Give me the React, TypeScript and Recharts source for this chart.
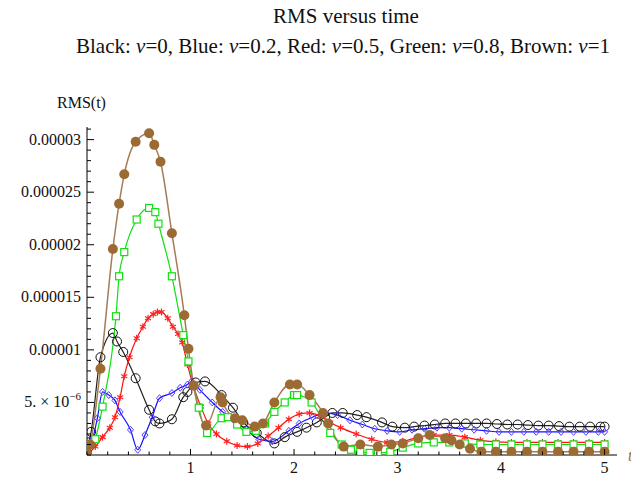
import React from 'react';
import { LineChart, Line, XAxis, YAxis } from 'recharts';

// values in units of 1e-6
const blackT = [0, 0.02, 0.04, 0.13, 0.25, 0.29, 0.35, 0.47, 0.6, 0.66, 0.7, 0.82, 0.93, 0.97, 1.05, 1.14, 1.3, 1.41, 1.51, 1.64, 1.81, 1.91, 2.03, 2.12, 2.22, 2.3, 2.37, 2.47, 2.61, 2.7, 2.85, 2.95, 3.07, 3.16, 3.26, 3.36, 3.46, 3.56, 3.66, 3.76, 3.86, 3.96, 4.06, 4.16, 4.26, 4.36, 4.46, 4.56, 4.66, 4.76, 4.86, 4.96, 5.0];
const blackV = [0.2, 1.2, 2.2, 9.3, 11.6, 10.8, 9.8, 7.3, 4.3, 3.2, 3.0, 3.4, 5.5, 6.0, 6.9, 7.0, 5.7, 4.5, 3.1, 2.1, 1.1, 1.7, 2.2, 2.6, 3.1, 3.6, 4.0, 4.0, 3.8, 3.6, 3.1, 2.7, 2.6, 2.7, 2.8, 2.9, 3.0, 3.0, 3.0, 3.0, 3.0, 2.95, 2.9, 2.9, 2.85, 2.8, 2.8, 2.75, 2.7, 2.7, 2.7, 2.7, 2.7];

const blueT = [0, 0.02, 0.05, 0.1, 0.15, 0.21, 0.27, 0.32, 0.42, 0.49, 0.56, 0.63, 0.7, 0.82, 0.9, 0.97, 1.01, 1.09, 1.21, 1.31, 1.41, 1.54, 1.66, 1.79, 1.95, 2.05, 2.18, 2.3, 2.42, 2.54, 2.66, 2.78, 2.9, 3.02, 3.14, 3.26, 3.38, 3.5, 3.62, 3.74, 3.86, 3.98, 4.1, 4.22, 4.34, 4.46, 4.58, 4.7, 4.82, 4.94, 5.0];
const blueV = [0, 0.8, 1.4, 3.5, 6.0, 5.7, 5.2, 4.1, 2.4, 0.5, 1.9, 3.6, 5.4, 5.9, 6.4, 6.7, 7.0, 6.2, 5.0, 4.1, 3.4, 2.4, 1.5, 1.3, 2.3, 3.0, 3.6, 4.0, 3.8, 3.3, 2.9, 2.5, 2.3, 2.2, 2.4, 2.5, 2.6, 2.6, 2.5, 2.4, 2.3, 2.2, 2.2, 2.2, 2.2, 2.2, 2.2, 2.2, 2.2, 2.2, 2.2];

const redT = [0, 0.08, 0.15, 0.22, 0.27, 0.32, 0.36, 0.41, 0.48, 0.54, 0.59, 0.64, 0.68, 0.72, 0.78, 0.83, 0.88, 0.92, 0.97, 1.03, 1.1, 1.17, 1.25, 1.35, 1.45, 1.55, 1.65, 1.75, 1.85, 1.95, 2.05, 2.15, 2.25, 2.35, 2.45, 2.6, 2.75, 2.9, 3.05, 3.2, 3.35, 3.5, 3.65, 3.8, 3.95, 4.1, 4.25, 4.4, 4.55, 4.7, 4.85, 5.0];
const redV = [0, 0.8, 1.7, 2.6, 3.6, 5.5, 7.5, 9.3, 11.1, 12.2, 13.0, 13.4, 13.6, 13.6, 13.0, 12.2, 11.5, 10.7, 8.6, 6.5, 4.6, 3.0, 2.0, 1.3, 0.9, 0.8, 1.1, 1.8, 2.6, 3.4, 3.9, 4.0, 3.7, 3.1, 2.6, 2.0, 1.5, 1.2, 1.3, 1.7, 1.9, 1.9, 1.7, 1.4, 1.25, 1.2, 1.2, 1.2, 1.2, 1.2, 1.2, 1.2];

const greenT = [0, 0.08, 0.15, 0.28, 0.31, 0.36, 0.48, 0.6, 0.66, 0.69, 0.82, 0.93, 0.98, 1.08, 1.16, 1.3, 1.36, 1.45, 1.54, 1.63, 1.72, 1.81, 1.91, 2.0, 2.03, 2.17, 2.35, 2.46, 2.55, 2.64, 2.73, 2.81, 2.93, 3.05, 3.2, 3.35, 3.5, 3.65, 3.8, 3.95, 4.1, 4.25, 4.4, 4.55, 4.7, 4.85, 5.0];
const greenV = [0, 1.5, 4.6, 13.2, 17.0, 19.3, 22.4, 23.5, 23.1, 22.0, 17.0, 11.4, 8.9, 4.5, 2.1, 3.5, 3.6, 2.9, 2.2, 2.3, 3.0, 4.1, 5.0, 5.7, 5.7, 5.0, 2.1, 1.0, 0.5, 0.3, 0.2, 0.2, 0.3, 0.7, 1.1, 1.2, 1.2, 1.1, 1.0, 1.0, 1.0, 1.0, 1.0, 1.0, 1.0, 1.0, 1.0];

const brownT = [0, 0.03, 0.13, 0.25, 0.31, 0.36, 0.47, 0.6, 0.65, 0.71, 0.82, 0.94, 0.98, 1.03, 1.15, 1.29, 1.31, 1.43, 1.5, 1.62, 1.7, 1.81, 1.96, 2.03, 2.15, 2.28, 2.33, 2.48, 2.64, 2.81, 2.94, 3.05, 3.2, 3.31, 3.46, 3.52, 3.6, 3.7, 3.81, 3.95, 4.1, 4.25, 4.4, 4.55, 4.7, 4.85, 5.0];
const brownV = [0.2, 1.0, 8.2, 19.6, 23.9, 26.7, 29.8, 30.6, 29.5, 27.9, 21.1, 13.3, 10.1, 6.6, 2.8, 5.5, 5.0, 3.5, 3.3, 2.7, 3.0, 5.0, 6.7, 6.7, 5.7, 4.0, 3.0, 0.8, 1.0, 0.8, 1.0, 1.1, 1.6, 1.9, 1.6, 1.4, 1.0, 0.6, 0.3, 0.3, 0.3, 0.3, 0.3, 0.3, 0.3, 0.3, 0.3];

const xTicks = [0, 0.2, 0.4, 0.6, 0.8, 1, 1.2, 1.4, 1.6, 1.8, 2, 2.2, 2.4, 2.6, 2.8, 3, 3.2, 3.4, 3.6, 3.8, 4, 4.2, 4.4, 4.6, 4.8, 5];
const xMajorLabels: Record<string, string> = { '1': '1', '2': '2', '3': '3', '4': '4', '5': '5' };
const yTicks = Array.from({ length: 32 }, (_, i) => i);
const yMajorLabels: Record<string, string> = { '10': '0.00001', '15': '0.000015', '20': '0.00002', '25': '0.000025', '30': '0.00003' };

const title = 'RMS versus time';
const subtitleParts = [
  ['Black', '0'],
  ['Blue', '0.2'],
  ['Red', '0.5'],
  ['Green', '0.8'],
  ['Brown', '1'],
];

const zip = (t: number[], v: number[]) => t.map((x, i) => ({ t: x, v: v[i] }));
const blackData = zip(blackT, blackV);
const blueData = zip(blueT, blueV);
const redData = zip(redT, redV);
const greenData = zip(greenT, greenV);
const brownData = zip(brownT, brownV);

const FONT = '"Liberation Serif", "Times New Roman", serif';

const XTick = (props: any) => {
  const { x, y, payload } = props;
  const val = payload.value;
  const major = Math.abs(val - Math.round(val)) < 1e-6 && val > 0;
  const label = xMajorLabels[String(Math.round(val))];
  return (
    <g>
      <line x1={x} x2={x} y1={y} y2={y - (major ? 6 : 3.5)} stroke="#000" strokeWidth={1} />
      {major && label ? (
        <text x={x} y={y + 18} textAnchor="middle" fontFamily={FONT} fontSize={16} fill="#111">
          {label}
        </text>
      ) : null}
    </g>
  );
};

const YTick = (props: any) => {
  const { x, y, payload } = props;
  const val = payload.value;
  const major = val % 5 === 0 && val > 0;
  return (
    <g>
      <line x1={x} x2={x + (major ? 7 : 4)} y1={y} y2={y} stroke="#000" strokeWidth={1} />
      {major && val === 5 ? (
        <text x={x - 6} y={y + 5} textAnchor="end" fontFamily={FONT} fontSize={16} fill="#111">
          5. × 10
          <tspan dy={-7} fontSize={11}>−6</tspan>
        </text>
      ) : major ? (
        <text x={x - 6} y={y + 5} textAnchor="end" fontFamily={FONT} fontSize={16} fill="#111">
          {yMajorLabels[String(val)]}
        </text>
      ) : null}
    </g>
  );
};

const ok = (p: any) => p && typeof p.cx === 'number' && typeof p.cy === 'number' && !isNaN(p.cy);

const BlackDot = (p: any) =>
  ok(p) ? <circle key={`bk${p.index}`} cx={p.cx} cy={p.cy} r={4.5} fill="none" stroke="#111" strokeWidth={1} /> : <g key={`bk${p.index}`} />;

const BlueDot = (p: any) =>
  ok(p) ? (
    <path
      key={`bl${p.index}`}
      d={`M${p.cx},${p.cy - 3.5}L${p.cx + 3},${p.cy}L${p.cx},${p.cy + 3.5}L${p.cx - 3},${p.cy}Z`}
      fill="none"
      stroke="#5a3cff"
      strokeWidth={1}
    />
  ) : <g key={`bl${p.index}`} />;

const RedDot = (p: any) => {
  if (!ok(p)) return <g key={`rd${p.index}`} />;
  const r = 3.5;
  const a = r * 0.866;
  const b = r * 0.5;
  return (
    <path
      key={`rd${p.index}`}
      d={`M${p.cx},${p.cy - r}L${p.cx},${p.cy + r}M${p.cx - a},${p.cy - b}L${p.cx + a},${p.cy + b}M${p.cx - a},${p.cy + b}L${p.cx + a},${p.cy - b}`}
      stroke="#ff2020"
      strokeWidth={1.2}
      fill="none"
    />
  );
};

const GreenDot = (p: any) =>
  ok(p) ? (
    <rect key={`gr${p.index}`} x={p.cx - 3.5} y={p.cy - 3.5} width={7} height={7} fill="#fff" stroke="#10e010" strokeWidth={1.2} />
  ) : <g key={`gr${p.index}`} />;

const BrownDot = (p: any) =>
  ok(p) ? <circle key={`br${p.index}`} cx={p.cx} cy={p.cy} r={5} fill="#9c6a33" stroke="none" /> : <g key={`br${p.index}`} />;

export default function App() {
  return (
    <div style={{ position: 'absolute', left: 0, top: 0, width: 631, height: 480, background: '#fff', overflow: 'hidden' }}>
      <div
        style={{
          position: 'absolute',
          left: 0,
          top: 4,
          width: 692,
          textAlign: 'center',
          fontFamily: FONT,
          fontSize: 21,
          lineHeight: '24px',
          color: '#111',
          whiteSpace: 'nowrap',
        }}
      >
        {title}
      </div>
      <div
        style={{
          position: 'absolute',
          left: 0,
          top: 34,
          width: 686,
          textAlign: 'center',
          fontFamily: FONT,
          fontSize: 21,
          lineHeight: '24px',
          color: '#111',
          whiteSpace: 'nowrap',
        }}
      >
        {subtitleParts.map(([name, val], i) => (
          <span key={name}>
            {name}: <i>ν</i>={val}
            {i < subtitleParts.length - 1 ? ', ' : ''}
          </span>
        ))}
      </div>
      <div
        style={{
          position: 'absolute',
          left: 57,
          top: 94,
          fontFamily: FONT,
          fontSize: 16,
          color: '#111',
          whiteSpace: 'nowrap',
        }}
      >
        RMS(t)
      </div>
      <div
        style={{
          position: 'absolute',
          left: 628,
          top: 447,
          fontFamily: FONT,
          fontSize: 16,
          fontStyle: 'italic',
          color: '#a06a30',
          whiteSpace: 'nowrap',
        }}
      >
        t
      </div>
      <LineChart width={631} height={480} margin={{ top: 127, right: 14, bottom: 0, left: 0 }}>
        <XAxis
          type="number"
          dataKey="t"
          domain={[0, 5.12]}
          ticks={xTicks}
          interval={0}
          allowDataOverflow
          height={25}
          tickSize={0}
          tickMargin={0}
          tickLine={false}
          axisLine={{ stroke: '#000', strokeWidth: 1 }}
          tick={<XTick />}
        />
        <YAxis
          type="number"
          dataKey="v"
          domain={[0, 31.2]}
          ticks={yTicks}
          interval={0}
          allowDataOverflow
          width={87}
          tickSize={0}
          tickMargin={0}
          tickLine={false}
          axisLine={{ stroke: '#000', strokeWidth: 1 }}
          tick={<YTick />}
        />
        <Line data={blackData} dataKey="v" type="monotone" stroke="#222" strokeWidth={1.2} dot={BlackDot} activeDot={false} isAnimationActive={false} />
        <Line data={blueData} dataKey="v" type="monotone" stroke="#1010ff" strokeWidth={1.2} dot={BlueDot} activeDot={false} isAnimationActive={false} />
        <Line data={redData} dataKey="v" type="monotone" stroke="#ff1010" strokeWidth={1.2} dot={RedDot} activeDot={false} isAnimationActive={false} />
        <Line data={greenData} dataKey="v" type="monotone" stroke="#10e010" strokeWidth={1.2} dot={GreenDot} activeDot={false} isAnimationActive={false} />
        <Line data={brownData} dataKey="v" type="monotone" stroke="#a57c55" strokeWidth={1.5} dot={BrownDot} activeDot={false} isAnimationActive={false} />
      </LineChart>
    </div>
  );
}
